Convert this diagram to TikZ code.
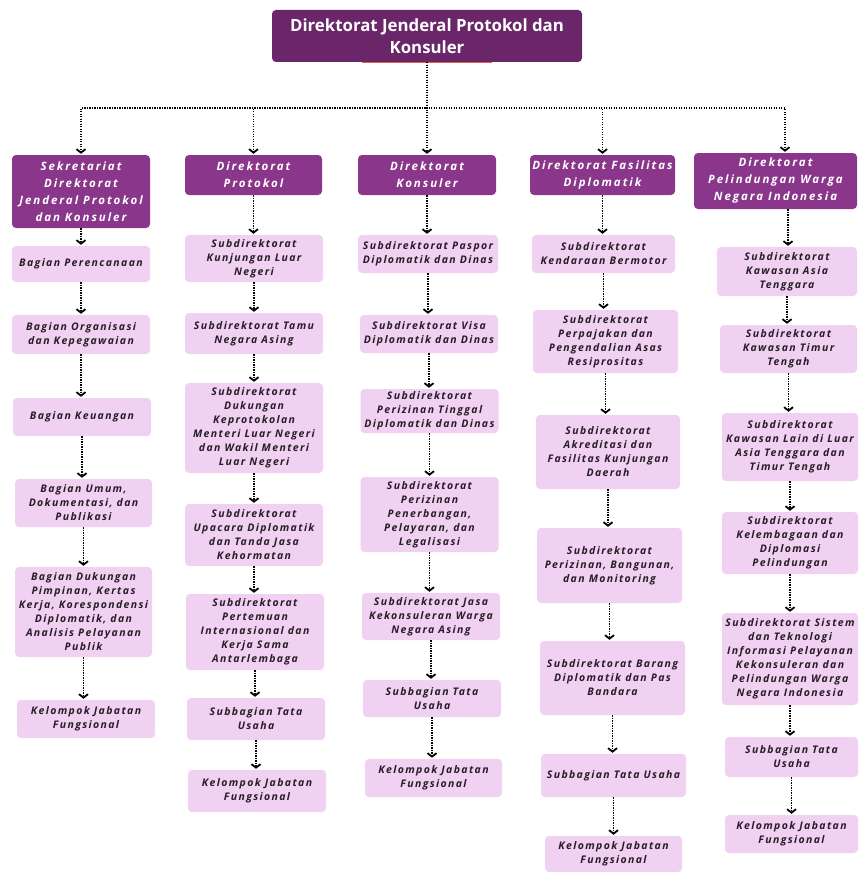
\documentclass[tikz,border=0pt]{standalone}
\usepackage{fontspec}
\usetikzlibrary{positioning}
\usetikzlibrary{arrows.meta}
\newfontfamily\titlefont{Open Sans}
\newfontfamily\boxfont[LetterSpace=13]{Open Sans}
\newfontfamily\headfont[LetterSpace=17]{Open Sans}
\definecolor{topcol}{RGB}{106,38,104}
\definecolor{headcol}{RGB}{138,54,138}
\definecolor{subcol}{RGB}{241,209,241}
\definecolor{subtext}{RGB}{40,30,40}
\definecolor{linecol}{RGB}{225,95,70}
\tikzset{
        orgnode/.style={align=center,inner sep=0pt,rounded corners=4pt},
        % Top node
        node_top/.style={orgnode, fill=topcol, text=white, font=\titlefont\bfseries\fontsize{16.8}{22}\selectfont, minimum width=310pt, minimum height=52pt},
        % Directorate nodes
        node_head/.style={orgnode, fill=headcol, text=white, font=\headfont\bfseries\itshape\fontsize{11.5}{17}\selectfont, minimum width=138pt},
        % Sub-unit nodes
        node_sub/.style={orgnode, fill=subcol, text=subtext, font=\boxfont\bfseries\itshape\fontsize{10.5}{14}\selectfont, minimum width=138pt},
        % Dotted connectors
        link_dotted/.style={black, line width=1.8pt, dash pattern=on 1.3pt off 1.2pt, shorten >=1pt}
}
\begin{document}
\begin{tikzpicture}[
            x=1pt, y=-1pt,
            >={Straight Barb[length=3.5pt,width=9pt]},
            ->
        ]
            \fill[white] (0,0) rectangle (859,872);
            \useasboundingbox (0,0) rectangle (859,872);
            \node[node_top] (top) at (427,36) {Direktorat Jenderal Protokol dan\\Konsuler};
            \draw[-, linecol, line width=1.2pt] (362,62.6) -- (492,62.6);
            % Directorates
            \node[node_head, minimum height=73pt] (h1) at (81,191.5) {Sekretariat\\Direktorat\\Jenderal Protokol\\dan Konsuler};
            \node[node_head, minimum height=40pt, minimum width=137pt] (h2) at (253.5,175) {Direktorat\\Protokol};
            \node[node_head, minimum height=40pt] (h3) at (427,175) {Direktorat\\Konsuler};
            \node[node_head, minimum height=40pt, minimum width=145pt] (h4) at (602.5,175) {Direktorat Fasilitas\\Diplomatik};
            \node[node_head, minimum height=56pt, minimum width=163pt] (h5) at (775.5,181) {Direktorat\\Pelindungan Warga\\Negara Indonesia};
            % Sekretariat
            \node[node_sub, minimum height=36pt] (a1) at (81,264) {Bagian Perencanaan};
            \node[node_sub, minimum height=39pt] (a2) at (81,334.5) {Bagian Organisasi\\dan Kepegawaian};
            \node[node_sub, minimum height=38pt] (a3) at (82,417) {Bagian Keuangan};
            \node[node_sub, minimum height=48pt, minimum width=137pt] (a4) at (83.5,503) {Bagian Umum,\\Dokumentasi, dan\\Publikasi};
            \node[node_sub, minimum height=90pt, minimum width=137pt] (a5) at (83.5,612) {Bagian Dukungan\\Pimpinan, Kertas\\Kerja, Korespondensi\\Diplomatik, dan\\Analisis Pelayanan\\Publik};
            \node[node_sub, minimum height=38pt] (a6) at (86,719) {Kelompok Jabatan\\Fungsional};
            % Protokol
            \node[node_sub, minimum height=47pt] (b1) at (254,258.5) {Subdirektorat\\Kunjungan Luar\\Negeri};
            \node[node_sub, minimum height=41pt] (b2) at (254,333.5) {Subdirektorat Tamu\\Negara Asing};
            \node[node_sub, minimum height=90pt] (b3) at (254,428) {Subdirektorat\\Dukungan\\Keprotokolan\\Menteri Luar Negeri\\dan Wakil Menteri\\Luar Negeri};
            \node[node_sub, minimum height=62pt] (b4) at (254,535) {Subdirektorat\\Upacara Diplomatik\\dan Tanda Jasa\\Kehormatan};
            \node[node_sub, minimum height=76pt] (b5) at (255,632) {Subdirektorat\\Pertemuan\\Internasional dan\\Kerja Sama\\Antarlembaga};
            \node[node_sub, minimum height=42pt] (b6) at (256,719) {Subbagian Tata\\Usaha};
            \node[node_sub, minimum height=42pt] (b7) at (257,791) {Kelompok Jabatan\\Fungsional};
            % Konsuler
            \node[node_sub, minimum height=38pt, minimum width=140pt] (c1) at (428,254) {Subdirektorat Paspor\\Diplomatik dan Dinas};
            \node[node_sub, minimum height=38pt] (c2) at (429,334) {Subdirektorat Visa\\Diplomatik dan Dinas};
            \node[node_sub, minimum height=44pt] (c3) at (429.5,411) {Subdirektorat\\Perizinan Tinggal\\Diplomatik dan Dinas};
            \node[node_sub, minimum height=75pt] (c4) at (429.5,514.5) {Subdirektorat\\Perizinan\\Penerbangan,\\Pelayaran, dan\\Legalisasi};
            \node[node_sub, minimum height=47pt] (c5) at (431,616.5) {Subdirektorat Jasa\\Kekonsuleran Warga\\Negara Asing};
            \node[node_sub, minimum height=37pt] (c6) at (432,698.5) {Subbagian Tata\\Usaha};
            \node[node_sub, minimum height=38pt, minimum width=137pt] (c7) at (433.5,778) {Kelompok Jabatan\\Fungsional};
            % Fasilitas Diplomatik
            \node[node_sub, minimum height=38pt, minimum width=143pt] (d1) at (603.5,254) {Subdirektorat\\Kendaraan Bermotor};
            \node[node_sub, minimum height=63pt, minimum width=145pt] (d2) at (605.5,341.5) {Subdirektorat\\Perpajakan dan\\Pengendalian Asas\\Resiprositas};
            \node[node_sub, minimum height=74pt, minimum width=144pt] (d3) at (608,452) {Subdirektorat\\Akreditasi dan\\Fasilitas Kunjungan\\Daerah};
            \node[node_sub, minimum height=75pt, minimum width=145pt] (d4) at (609.5,565.5) {Subdirektorat\\Perizinan, Bangunan,\\dan Monitoring};
            \node[node_sub, minimum height=74pt, minimum width=145pt] (d5) at (612.5,678) {Subdirektorat Barang\\Diplomatik dan Pas\\Bandara};
            \node[node_sub, minimum height=43pt, minimum width=145pt] (d6) at (613.5,775.5) {Subbagian Tata Usaha};
            \node[node_sub, minimum height=36pt, minimum width=137pt] (d7) at (613.5,854) {Kelompok Jabatan\\Fungsional};
            % Pelindungan WNI
            \node[node_sub, minimum height=49pt, minimum width=140pt] (e1) at (787,271.5) {Subdirektorat\\Kawasan Asia\\Tenggara};
            \node[node_sub, minimum height=48pt, minimum width=137pt] (e2) at (788.5,349) {Subdirektorat\\Kawasan Timur\\Tengah};
            \node[node_sub, minimum height=68pt, minimum width=136pt] (e3) at (790,447) {Subdirektorat\\Kawasan Lain di Luar\\Asia Tenggara dan\\Timur Tengah};
            \node[node_sub, minimum height=62pt, minimum width=136pt] (e4) at (790,543) {Subdirektorat\\Kelembagaan dan\\Diplomasi\\Pelindungan};
            \node[node_sub, minimum height=92pt, minimum width=136pt] (e5) at (790,659) {Subdirektorat Sistem\\dan Teknologi\\Informasi Pelayanan\\Kekonsuleran dan\\Pelindungan Warga\\Negara Indonesia};
            \node[node_sub, minimum height=40pt, minimum width=133pt] (e6) at (791.5,757) {Subbagian Tata\\Usaha};
            \node[node_sub, minimum height=38pt, minimum width=133pt] (e7) at (791.5,834) {Kelompok Jabatan\\Fungsional};
            % Connectors
            \foreach \h in {h1,h2,h3,h4}
                \draw[link_dotted] (top.south) -- ++(0,46) -| (\h.north);
            \draw[link_dotted] (top.south) -- ++(0,46) -| ([xshift=9.5pt]h5.north);
            \foreach \u/\v in {h1/a1,a1/a2,a2/a3,a3/a4,a4/a5,a5/a6,
                               h2/b1,b1/b2,b2/b3,b3/b4,b4/b5,b5/b6,b6/b7,
                               h3/c1,c1/c2,c2/c3,c3/c4,c4/c5,c5/c6,c6/c7,
                               h4/d1,d1/d2,d2/d3,d3/d4,d4/d5,d5/d6,d6/d7,
                               e1/e2,e2/e3,e3/e4,e4/e5,e5/e6,e6/e7}
                \draw[link_dotted] (\u.south) -- (\u.south |- \v.north);
            \draw[link_dotted] ([xshift=12.5pt]h5.south) -- ([xshift=12.5pt]h5.south |- e1.north);
        \end{tikzpicture}
\end{document}
